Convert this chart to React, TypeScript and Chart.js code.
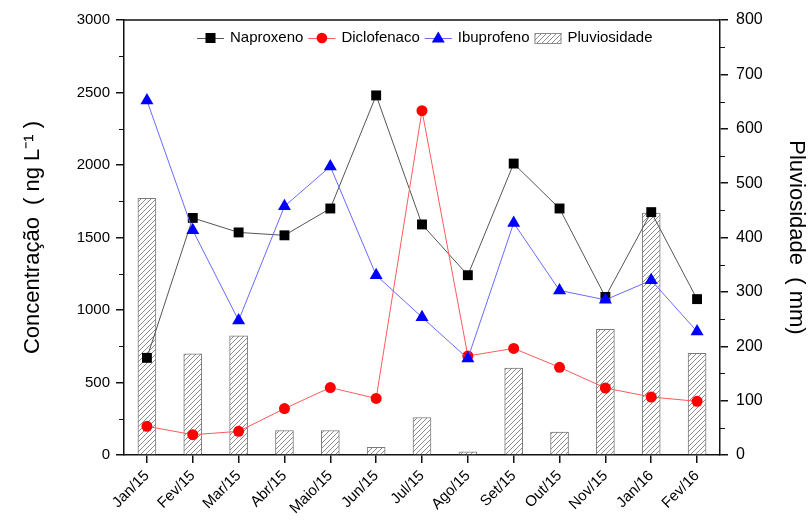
import React, { useEffect, useRef } from 'react';
import { Chart, registerables } from 'chart.js';

Chart.register(...registerables);

const categories = ['Jan/15', 'Fev/15', 'Mar/15', 'Abr/15', 'Maio/15', 'Jun/15', 'Jul/15', 'Ago/15', 'Set/15', 'Out/15', 'Nov/15', 'Jan/16', 'Fev/16'];
const naproxeno = [670, 1635, 1535, 1515, 1700, 2480, 1590, 1240, 2010, 1700, 1090, 1675, 1075];
const diclofenaco = [198, 140, 163, 320, 465, 390, 2375, 683, 735, 605, 462, 400, 370];
const ibuprofeno = [2445, 1550, 928, 1715, 1990, 1240, 950, 665, 1600, 1135, 1070, 1205, 852];
const pluviosidade = [472, 186, 219, 45, 45, 14, 69, 6, 160, 42, 231, 445, 187];

const leftMax = 3000;
const leftStep = 500;
const leftMinor = 250;
const rightMax = 800;
const rightStep = 100;
const rightMinor = 50;

const FONT = "'Liberation Sans', Arial, sans-serif";

function makeHatch(): CanvasPattern | string {
  const c = document.createElement('canvas');
  const s = 5;
  c.width = s;
  c.height = s;
  const g = c.getContext('2d');
  if (!g) return '#fff';
  g.fillStyle = '#fff';
  g.fillRect(0, 0, s, s);
  g.strokeStyle = '#808080';
  g.lineWidth = 0.9;
  g.beginPath();
  g.moveTo(-1, s + 1);
  g.lineTo(s + 1, -1);
  g.moveTo(-1, 1);
  g.lineTo(1, -1);
  g.moveTo(s - 1, s + 1);
  g.lineTo(s + 1, s - 1);
  g.stroke();
  const p = g.createPattern(c, 'repeat');
  return p || '#fff';
}

export default function App() {
  const ref = useRef<HTMLCanvasElement | null>(null);

  useEffect(() => {
    const canvas = ref.current;
    if (!canvas) return;
    const hatch = makeHatch();

    const framePlugin = {
      id: 'frameAndMinor',
      afterDraw(chart: any) {
        const ctx = chart.ctx;
        const a = chart.chartArea;
        ctx.save();
        ctx.strokeStyle = '#111';
        ctx.lineWidth = 1.5;
        ctx.beginPath();
        ctx.moveTo(a.left, a.top);
        ctx.lineTo(a.right, a.top);
        ctx.stroke();
        // minor ticks
        ctx.lineWidth = 1.2;
        const y = chart.scales.y;
        const y1 = chart.scales.y1;
        ctx.beginPath();
        for (let v = leftMinor; v < leftMax; v += leftStep) {
          const py = Math.round(y.getPixelForValue(v)) + 0.5;
          ctx.moveTo(a.left, py);
          ctx.lineTo(a.left - 5, py);
        }
        for (let v = rightMinor; v < rightMax; v += rightStep) {
          const py = Math.round(y1.getPixelForValue(v)) + 0.5;
          ctx.moveTo(a.right, py);
          ctx.lineTo(a.right + 5, py);
        }
        ctx.stroke();

        // legend
        const ly = 38;
        ctx.font = `15px ${FONT}`;
        ctx.textBaseline = 'middle';
        ctx.textAlign = 'left';
        let x = 197;
        const items = [
          { label: 'Naproxeno', kind: 'rect', color: '#000', line: '#555' },
          { label: 'Diclofenaco', kind: 'circle', color: '#f00', line: '#ff5a5a' },
          { label: 'Ibuprofeno', kind: 'triangle', color: '#00f', line: '#6a6aff' },
          { label: 'Pluviosidade', kind: 'box', color: '#888', line: '#888' },
        ];
        items.forEach((it) => {
          const w = 27;
          const cx = x + w / 2;
          if (it.kind === 'box') {
            ctx.fillStyle = hatch as any;
            ctx.fillRect(x, ly - 5, w, 10);
            ctx.strokeStyle = '#8a8a8a';
            ctx.lineWidth = 1;
            ctx.strokeRect(x + 0.5, ly - 5 + 0.5, w - 1, 10);
          } else {
            ctx.strokeStyle = it.line;
            ctx.lineWidth = 1;
            ctx.beginPath();
            ctx.moveTo(x, ly + 0.5);
            ctx.lineTo(x + w, ly + 0.5);
            ctx.stroke();
            ctx.fillStyle = it.color;
            ctx.beginPath();
            if (it.kind === 'rect') {
              ctx.rect(cx - 5, ly - 5, 10, 10);
            } else if (it.kind === 'circle') {
              ctx.arc(cx, ly, 5.3, 0, Math.PI * 2);
            } else {
              ctx.moveTo(cx, ly - 6.5);
              ctx.lineTo(cx + 6.5, ly + 4.5);
              ctx.lineTo(cx - 6.5, ly + 4.5);
              ctx.closePath();
            }
            ctx.fill();
          }
          ctx.fillStyle = '#000';
          ctx.fillText(it.label, x + w + 6, ly);
          x += w + 6 + ctx.measureText(it.label).width + 5;
        });
        ctx.restore();
      },
    };

    const chart = new Chart(canvas, {
      type: 'bar',
      data: {
        labels: categories,
        datasets: [
          {
            type: 'bar',
            label: 'Pluviosidade',
            data: pluviosidade,
            yAxisID: 'y1',
            backgroundColor: hatch as any,
            borderColor: '#7a7a7a',
            borderWidth: 1,
            barThickness: 18,
            order: 10,
          } as any,
          {
            type: 'line',
            label: 'Naproxeno',
            data: naproxeno,
            yAxisID: 'y',
            borderColor: '#555',
            borderWidth: 1,
            pointStyle: 'rect',
            pointRadius: 7,
            pointBackgroundColor: '#000',
            pointBorderColor: '#000',
            pointBorderWidth: 0,
            order: 3,
          },
          {
            type: 'line',
            label: 'Diclofenaco',
            data: diclofenaco,
            yAxisID: 'y',
            borderColor: '#ff5a5a',
            borderWidth: 1,
            pointStyle: 'circle',
            pointRadius: 5.5,
            pointBackgroundColor: '#f00',
            pointBorderColor: '#f00',
            pointBorderWidth: 0,
            order: 2,
          },
          {
            type: 'line',
            label: 'Ibuprofeno',
            data: ibuprofeno,
            yAxisID: 'y',
            borderColor: '#6a6aff',
            borderWidth: 1,
            pointStyle: 'triangle',
            pointRadius: 7.5,
            pointBackgroundColor: '#00f',
            pointBorderColor: '#00f',
            pointBorderWidth: 0,
            order: 1,
          },
        ],
      },
      options: {
        responsive: false,
        animation: false,
        layout: { padding: { top: 20, left: 0, right: 0, bottom: 0 } },
        plugins: {
          legend: { display: false },
          tooltip: { enabled: false },
          title: { display: false },
        },
        scales: {
          x: {
            type: 'category',
            offset: true,
            grid: {
              display: true,
              drawOnChartArea: false,
              drawTicks: true,
              tickLength: 8,
              offset: false,
              color: '#111',
              lineWidth: 1.5,
            },
            border: { display: true, color: '#111', width: 1.5 },
            ticks: {
              autoSkip: false,
              maxRotation: 45,
              minRotation: 45,
              color: '#000',
              padding: 4,
              font: { family: FONT, size: 15 },
            },
            afterFit(scale: any) {
              scale.height = 75;
            },
          },
          y: {
            type: 'linear',
            position: 'left',
            min: 0,
            max: leftMax,
            grid: {
              display: true,
              drawOnChartArea: false,
              drawTicks: true,
              tickLength: 8,
              color: '#111',
              lineWidth: 1.5,
            },
            border: { display: true, color: '#111', width: 1.5 },
            ticks: {
              stepSize: leftStep,
              color: '#000',
              padding: 6,
              font: { family: FONT, size: 15 },
              callback: (v: any) => String(v),
            },
            title: {
              display: true,
              text: 'Concentração  ( ng L⁻¹ )',
              color: '#000',
              font: { family: FONT, size: 22 },
              padding: { top: 20, bottom: 0 },
            },
            afterFit(scale: any) {
              scale.width = 124;
            },
          },
          y1: {
            type: 'linear',
            position: 'right',
            min: 0,
            max: rightMax,
            grid: {
              display: true,
              drawOnChartArea: false,
              drawTicks: true,
              tickLength: 8,
              color: '#111',
              lineWidth: 1.5,
            },
            border: { display: true, color: '#111', width: 1.5 },
            ticks: {
              stepSize: rightStep,
              color: '#000',
              padding: 8,
              font: { family: FONT, size: 16 },
              callback: (v: any) => String(v),
            },
            title: {
              display: true,
              text: 'Pluviosidade  ( mm)',
              color: '#000',
              font: { family: FONT, size: 22 },
              padding: { top: 0, bottom: 0 },
            },
            afterFit(scale: any) {
              scale.width = 89;
            },
          },
        },
      } as any,
      plugins: [framePlugin],
    });

    return () => {
      chart.destroy();
    };
  }, []);

  return (
    <div style={{ position: 'fixed', left: 0, top: 0, width: 809, height: 530, background: '#fff' }}>
      <canvas ref={ref} width={809} height={530} style={{ display: 'block' }} />
    </div>
  );
}
